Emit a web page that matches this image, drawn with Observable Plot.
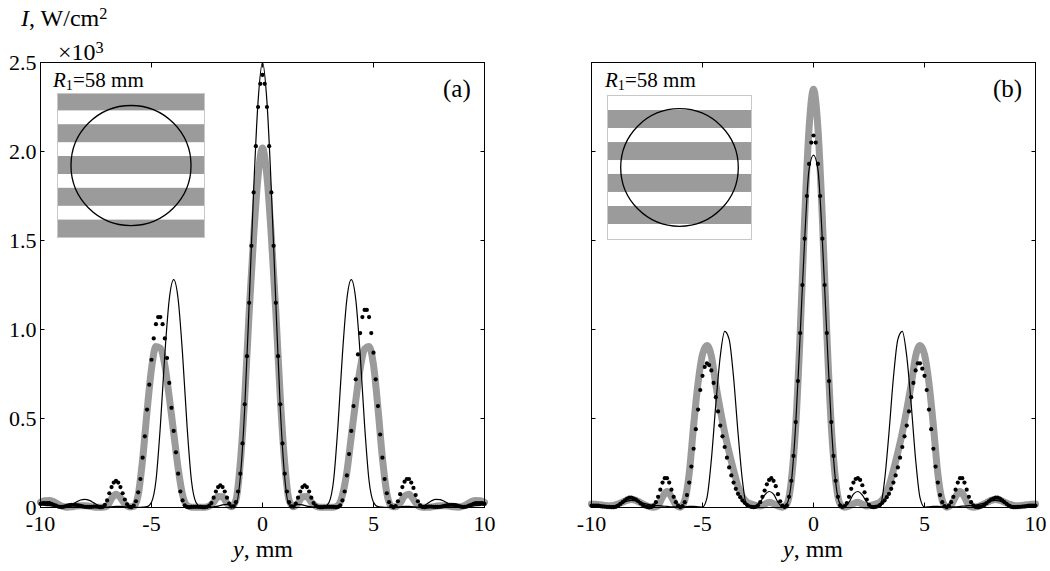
<!DOCTYPE html>
<html><head><meta charset="utf-8">
<script src="https://cdn.jsdelivr.net/npm/d3@7"></script>
<script src="https://cdn.jsdelivr.net/npm/@observablehq/plot@0.6"></script>
<style>
body{margin:0;background:#fff;}
#root{position:relative;width:1050px;height:571px;font-family:"Liberation Serif","Times New Roman",serif;color:#000;overflow:hidden;}
.abs{position:absolute;}
.lbl{position:absolute;line-height:1;white-space:nowrap;}
.sup{position:relative;top:-0.45em;font-size:0.68em;}
.sub{position:relative;top:0.22em;font-size:0.68em;}
svg text{font-family:"Liberation Serif","Times New Roman",serif;}
</style></head><body><div id="root"></div>
<script>
// ---- axis ticks ----
const xTicks = [-10, -5, 0, 5, 10];
const yTicks = [0, 0.5, 1, 1.5, 2, 2.5];

// ---- sampling grids (mm) ----
const lineX = d3.range(101).map(i => Math.round((-10 + i * 0.2) * 10) / 10);
const dotX  = d3.range(201).map(i => Math.round((-10 + i * 0.1) * 10) / 10);

// ---- panel (a): intensity, x10^3 W/cm^2 ----
const aGray = [
  0.03, 0.038, 0.04, 0.032, 0.018, 0.006, 0.002, 0.004, 0.008, 0.01,
  0.01, 0.007, 0.003, 0.001, 0.002, 0.008, 0.05, 0.075, 0.055, 0.02,
  0.003, 0.006, 0.07, 0.27, 0.54, 0.78, 0.905, 0.895, 0.8, 0.62,
  0.42, 0.22, 0.07, 0.012, 0.002, 0.001, 0.001, 0.002, 0.008, 0.03,
  0.062, 0.06, 0.025, 0.004, 0.04, 0.25, 0.62, 1.1, 1.52, 1.86,
  2.02, 1.86, 1.52, 1.1, 0.62, 0.25, 0.04, 0.004, 0.025, 0.06,
  0.062, 0.03, 0.008, 0.002, 0.001, 0.001, 0.002, 0.012, 0.07, 0.2,
  0.4, 0.6, 0.78, 0.89, 0.905, 0.8, 0.56, 0.28, 0.08, 0.008,
  0.004, 0.025, 0.065, 0.075, 0.045, 0.01, 0.002, 0.001, 0.003, 0.007,
  0.01, 0.01, 0.008, 0.004, 0.002, 0.006, 0.018, 0.032, 0.04, 0.038,
  0.03
];
const aThin = [
  0.015, 0.012, 0.01, 0.007, 0.004, 0.003, 0.006, 0.015, 0.03, 0.042,
  0.046, 0.04, 0.026, 0.012, 0.003, 0.002, 0.004, 0.006, 0.006, 0.004,
  0.002, 0.001, 0.001, 0.002, 0.005, 0.03, 0.15, 0.46, 0.86, 1.17,
  1.28, 1.17, 0.86, 0.46, 0.15, 0.03, 0.005, 0.002, 0.002, 0.004,
  0.008, 0.015, 0.018, 0.012, 0.015, 0.17, 0.56, 1.15, 1.78, 2.28,
  2.5, 2.28, 1.78, 1.15, 0.56, 0.17, 0.015, 0.012, 0.018, 0.015,
  0.008, 0.004, 0.002, 0.002, 0.005, 0.03, 0.15, 0.46, 0.86, 1.17,
  1.28, 1.17, 0.86, 0.46, 0.15, 0.03, 0.005, 0.002, 0.001, 0.001,
  0.002, 0.004, 0.006, 0.006, 0.004, 0.002, 0.005, 0.02, 0.036, 0.046,
  0.044, 0.034, 0.02, 0.008, 0.004, 0.003, 0.004, 0.007, 0.01, 0.012,
  0.015
];
const aDots = [
  0.02, 0.025, 0.025, 0.025, 0.025, 0.02, 0.015, 0.01, 0.005, 0.003,
  0.003, 0.006, 0.01, 0.013, 0.015, 0.015, 0.014, 0.012, 0.009, 0.006,
  0.004, 0.003, 0.003, 0.004, 0.005, 0.005, 0.004, 0.002, 0.003, 0.015,
  0.04, 0.08, 0.115, 0.14, 0.15, 0.14, 0.115, 0.08, 0.045, 0.018,
  0.004, 0.002, 0.01, 0.035, 0.085, 0.16, 0.28, 0.40, 0.55, 0.69,
  0.83, 0.95, 1.03, 1.07, 1.07, 1.03, 0.95, 0.84, 0.70, 0.56,
  0.43, 0.31, 0.19, 0.09, 0.04, 0.012, 0.003, 0.002, 0.003, 0.004,
  0.004, 0.004, 0.003, 0.002, 0.002, 0.004, 0.01, 0.025, 0.055, 0.09,
  0.115, 0.125, 0.115, 0.09, 0.055, 0.022, 0.005, 0.006, 0.03, 0.09,
  0.19, 0.36, 0.58, 0.85, 1.15, 1.47, 1.77, 2.03, 2.25, 2.38,
  2.43, 2.38, 2.25, 2.03, 1.77, 1.47, 1.15, 0.85, 0.58, 0.36,
  0.19, 0.09, 0.03, 0.006, 0.005, 0.022, 0.055, 0.09, 0.115, 0.125,
  0.115, 0.09, 0.055, 0.025, 0.01, 0.004, 0.002, 0.002, 0.003, 0.004,
  0.004, 0.004, 0.003, 0.002, 0.003, 0.012, 0.04, 0.09, 0.18, 0.30,
  0.43, 0.57, 0.72, 0.86, 0.98, 1.07, 1.11, 1.11, 1.07, 0.98,
  0.87, 0.72, 0.57, 0.41, 0.28, 0.16, 0.08, 0.03, 0.008, 0.002,
  0.008, 0.035, 0.075, 0.115, 0.145, 0.16, 0.16, 0.14, 0.11, 0.07,
  0.035, 0.012, 0.003, 0.002, 0.004, 0.005, 0.005, 0.004, 0.003, 0.003,
  0.004, 0.006, 0.009, 0.012, 0.014, 0.015, 0.015, 0.013, 0.01, 0.006,
  0.003, 0.003, 0.005, 0.01, 0.015, 0.02, 0.025, 0.025, 0.025, 0.025,
  0.02
];

// ---- panel (b) ----
const bGray = [
  0.02, 0.018, 0.015, 0.012, 0.01, 0.012, 0.02, 0.03, 0.04, 0.045,
  0.04, 0.028, 0.015, 0.005, 0.002, 0.01, 0.06, 0.09, 0.06, 0.015,
  0.002, 0.04, 0.19, 0.46, 0.70, 0.86, 0.91, 0.85, 0.69, 0.55,
  0.42, 0.31, 0.21, 0.12, 0.06, 0.03, 0.02, 0.012, 0.008, 0.018,
  0.03, 0.022, 0.008, 0.002, 0.02, 0.15, 0.46, 0.98, 1.62, 2.13,
  2.35, 2.13, 1.62, 0.98, 0.46, 0.15, 0.02, 0.002, 0.008, 0.022,
  0.03, 0.018, 0.008, 0.012, 0.02, 0.03, 0.06, 0.12, 0.21, 0.31,
  0.42, 0.55, 0.69, 0.85, 0.91, 0.86, 0.70, 0.46, 0.19, 0.04,
  0.002, 0.015, 0.06, 0.09, 0.06, 0.01, 0.002, 0.005, 0.015, 0.028,
  0.04, 0.045, 0.04, 0.03, 0.02, 0.012, 0.01, 0.012, 0.015, 0.018,
  0.02
];
const bThin = [
  0.004, 0.004, 0.004, 0.005, 0.006, 0.01, 0.018, 0.028, 0.036, 0.04,
  0.037, 0.03, 0.022, 0.016, 0.012, 0.01, 0.008, 0.006, 0.004, 0.003,
  0.003, 0.004, 0.006, 0.006, 0.004, 0.002, 0.054, 0.27, 0.58, 0.85,
  0.99, 0.945, 0.73, 0.42, 0.15, 0.006, 0.001, 0.006, 0.03, 0.07,
  0.09, 0.075, 0.03, 0.003, 0.02, 0.14, 0.47, 0.97, 1.5, 1.9,
  1.98, 1.9, 1.5, 0.97, 0.47, 0.14, 0.02, 0.003, 0.03, 0.075,
  0.09, 0.07, 0.03, 0.006, 0.001, 0.006, 0.15, 0.42, 0.73, 0.945,
  0.99, 0.85, 0.58, 0.27, 0.054, 0.002, 0.004, 0.006, 0.006, 0.004,
  0.003, 0.003, 0.004, 0.006, 0.008, 0.01, 0.012, 0.016, 0.022, 0.03,
  0.037, 0.04, 0.036, 0.028, 0.018, 0.01, 0.006, 0.005, 0.004, 0.004,
  0.004
];
const bDots = [
  0.01, 0.01, 0.01, 0.01, 0.008, 0.006, 0.005, 0.004, 0.003, 0.002,
  0.002, 0.004, 0.01, 0.02, 0.03, 0.04, 0.05, 0.055, 0.055, 0.05,
  0.045, 0.035, 0.025, 0.015, 0.007, 0.003, 0.002, 0.003, 0.012, 0.03,
  0.06, 0.10, 0.14, 0.165, 0.165, 0.14, 0.10, 0.06, 0.03, 0.01,
  0.002, 0.008, 0.03, 0.07, 0.14, 0.23, 0.33, 0.44, 0.55, 0.66,
  0.74, 0.79, 0.81, 0.80, 0.77, 0.70, 0.62, 0.54, 0.46, 0.40,
  0.34, 0.28, 0.225, 0.18, 0.14, 0.105, 0.077, 0.058, 0.04, 0.026,
  0.015, 0.007, 0.003, 0.002, 0.004, 0.012, 0.03, 0.06, 0.095, 0.13,
  0.155, 0.165, 0.15, 0.12, 0.075, 0.035, 0.01, 0.003, 0.012, 0.06,
  0.15, 0.29, 0.48, 0.71, 0.98, 1.25, 1.51, 1.75, 1.93, 2.05,
  2.09, 2.05, 1.93, 1.75, 1.51, 1.25, 0.98, 0.71, 0.48, 0.29,
  0.15, 0.06, 0.012, 0.003, 0.008, 0.025, 0.06, 0.105, 0.14, 0.16,
  0.165, 0.155, 0.125, 0.085, 0.045, 0.015, 0.004, 0.002, 0.003, 0.007,
  0.015, 0.026, 0.04, 0.058, 0.077, 0.105, 0.14, 0.18, 0.225, 0.28,
  0.34, 0.40, 0.46, 0.54, 0.62, 0.70, 0.77, 0.81, 0.81, 0.78,
  0.74, 0.66, 0.55, 0.44, 0.33, 0.23, 0.14, 0.07, 0.03, 0.008,
  0.002, 0.01, 0.03, 0.06, 0.10, 0.14, 0.165, 0.165, 0.14, 0.10,
  0.06, 0.03, 0.012, 0.003, 0.002, 0.003, 0.007, 0.015, 0.025, 0.035,
  0.045, 0.05, 0.055, 0.055, 0.05, 0.04, 0.03, 0.02, 0.01, 0.004,
  0.002, 0.002, 0.003, 0.004, 0.005, 0.006, 0.008, 0.01, 0.01, 0.01,
  0.01
];

// ---- inset masks (mask units; aperture radius ~0.98) ----
const maskHalfSide = 1.2;
const stripeWidth = 0.3;
const apertureRadius = 0.98;
const stripeCentersA = [-1.06, -0.53, 0, 0.53, 1.06];
const stripeCentersB = [-0.8, -0.266, 0.266, 0.8];

const GRAY = "#9b9b9b";
const SERIF = '"Liberation Serif", "Times New Roman", serif';
const root = document.getElementById("root");

function panel({gray, thin, dots, yLabels, marginLeft, marginRight}) {
  const g = gray.map((v, i) => ({x: lineX[i], v}));
  const t = thin.map((v, i) => ({x: lineX[i], v}));
  const d = dots.map((v, i) => ({x: dotX[i], v}));
  const tick = 4.5;
  return Plot.plot({
    width: 525, height: 571,
    marginTop: 62, marginBottom: 64, marginLeft, marginRight,
    style: {fontFamily: SERIF, fontSize: "22px", background: "transparent", overflow: "visible", maxWidth: "none"},
    x: {domain: [-10, 10], axis: null, label: null},
    y: {domain: [0, 2.5], axis: null, label: null},
    marks: [
      Plot.line(g, {x: "x", y: "v", stroke: GRAY, strokeWidth: 7, curve: "monotone-x", strokeLinejoin: "round", strokeLinecap: "round"}),
      Plot.line(t, {x: "x", y: "v", stroke: "black", strokeWidth: 1.2, curve: "monotone-x"}),
      Plot.dot(d, {x: "x", y: "v", r: 2.1, fill: "black", stroke: "none"}),
      Plot.frame({stroke: "black", strokeWidth: 1}),
      Plot.axisX(xTicks, {anchor: "bottom", tickSize: 0, tickPadding: 7.5, tickFormat: v => String(v), fontSize: 22, fontFamily: SERIF, label: null}),
      Plot.axisX(xTicks, {anchor: "bottom", tickSize: -tick, tickFormat: () => "", label: null}),
      Plot.axisX(xTicks, {anchor: "top", tickSize: -tick, tickFormat: () => "", label: null}),
      Plot.axisY(yTicks, {anchor: "left", tickSize: -tick, tickFormat: () => "", label: null}),
      Plot.axisY(yTicks, {anchor: "right", tickSize: -tick, tickFormat: () => "", label: null}),
      yLabels ? Plot.axisY(yTicks, {anchor: "left", tickSize: 0, tickPadding: 4, fontSize: 22, fontFamily: SERIF, label: null,
        tickFormat: v => v === 0 ? "0" : v.toFixed(1)}) : null
    ]
  });
}

function inset(centers, w, h) {
  const stripes = centers.map(c => ({y1: c - stripeWidth / 2, y2: c + stripeWidth / 2}));
  return Plot.plot({
    width: w, height: h, margin: 0,
    style: {background: "white", overflow: "visible", maxWidth: "none"},
    x: {domain: [-maskHalfSide, maskHalfSide], axis: null},
    y: {domain: [-maskHalfSide, maskHalfSide], axis: null},
    r: {type: "linear", domain: [0, maskHalfSide], range: [0, w / 2]},
    marks: [
      Plot.rect(stripes, {x1: -maskHalfSide, x2: maskHalfSide, y1: "y1", y2: "y2", fill: GRAY, clip: true}),
      Plot.frame({stroke: "#c8c8c8", strokeWidth: 1}),
      Plot.dot([{r: apertureRadius}], {x: 0, y: 0, r: "r", stroke: "black", strokeWidth: 1.3, fill: "none"})
    ]
  });
}

function place(el, left, top) {
  const div = document.createElement("div");
  div.className = "abs";
  div.style.left = left + "px";
  div.style.top = top + "px";
  div.appendChild(el);
  root.appendChild(div);
  return div;
}
function label(html, left, top, size, extra = "") {
  const div = document.createElement("div");
  div.className = "lbl";
  div.style.cssText = `left:${left}px;top:${top}px;font-size:${size}px;${extra}`;
  div.innerHTML = html;
  root.appendChild(div);
}

place(panel({gray: aGray, thin: aThin, dots: aDots, yLabels: true, marginLeft: 40, marginRight: 41}), 0, 0);
place(panel({gray: bGray, thin: bThin, dots: bDots, yLabels: false, marginLeft: 66, marginRight: 15}), 525, 0);

place(inset(stripeCentersA, 147, 144), 57, 93);
place(inset(stripeCentersB, 144, 144), 607, 95);

// texts
label('<i>I</i>, W/cm<span class="sup">2</span>', 21, 6, 24);
label('×10<span class="sup">3</span>', 58, 40, 24);
label('<i>R</i><span class="sub">1</span>=58 mm', 53, 70, 21);
label('<i>R</i><span class="sub">1</span>=58 mm', 605, 70, 21);
label('(a)', 443, 76, 25);
label('(b)', 993, 76, 25);
label('<i>y</i>, mm', 163, 541.7, 24, "width:200px;text-align:center;line-height:0.6;");
label('<i>y</i>, mm', 713, 541.7, 24, "width:200px;text-align:center;line-height:0.6;");
</script>
</body></html>
